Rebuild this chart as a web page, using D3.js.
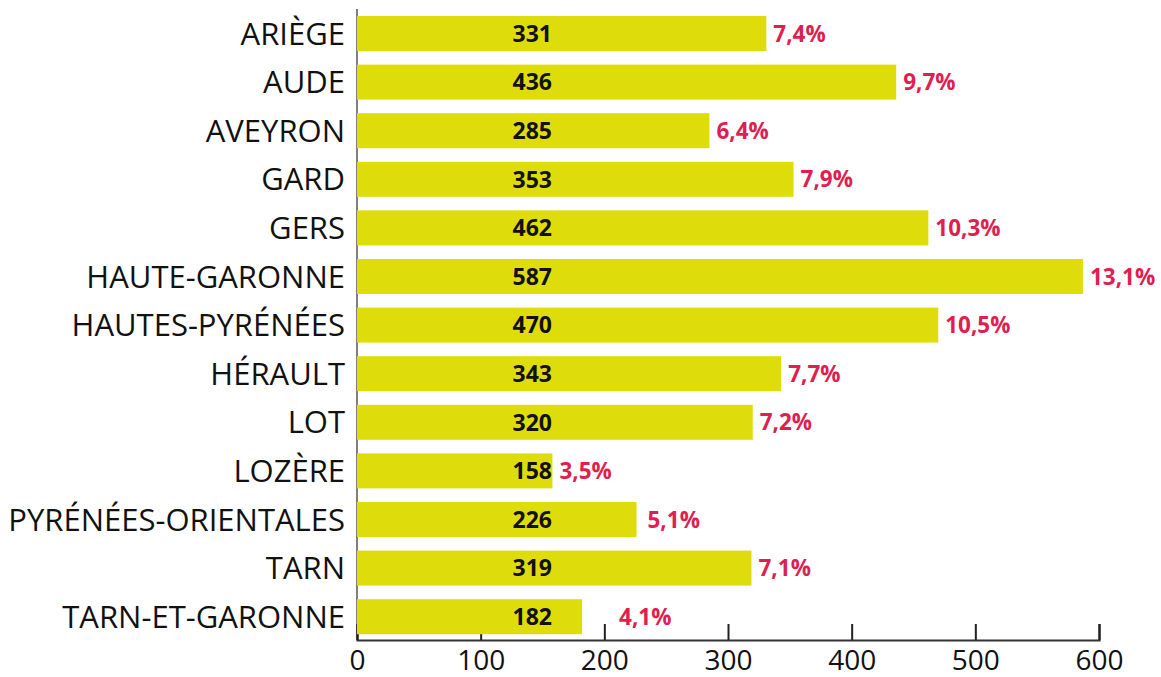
<!DOCTYPE html>
<html><head><meta charset="utf-8">
<script src="https://cdn.jsdelivr.net/npm/d3@7"></script>
<style>body{margin:0;background:#fff}svg{display:block}</style>
</head><body>
<svg id="c" width="1161" height="677"></svg>
<script>
const categories = ["ARIÈGE","AUDE","AVEYRON","GARD","GERS","HAUTE-GARONNE","HAUTES-PYRÉNÉES","HÉRAULT","LOT","LOZÈRE","PYRÉNÉES-ORIENTALES","TARN","TARN-ET-GARONNE"];
const values = [331,436,285,353,462,587,470,343,320,158,226,319,182];
const percents = ["7,4%","9,7%","6,4%","7,9%","10,3%","13,1%","10,5%","7,7%","7,2%","3,5%","5,1%","7,1%","4,1%"];
const xTicks = [0,100,200,300,400,500,600];

const svg = d3.select("#c");
const font = "'Open Sans', sans-serif";
const x = d3.scaleLinear().domain([0,600]).range([357,1099]);
const pad = 0.28;
const y = d3.scaleBand().domain(categories).range([2.4, 2.4 + 13.28*48.6]).padding(pad);

// vertical axis line (behind bars)
svg.append("line").attr("x1",357).attr("x2",357).attr("y1",9).attr("y2",640)
  .attr("stroke","#555").attr("stroke-width",1.5);

// x axis
const xAxis = svg.append("g").attr("transform","translate(0,640)")
  .call(d3.axisBottom(x).tickValues(xTicks).tickSize(-16).tickPadding(0).tickFormat(d3.format("d")));
xAxis.select(".domain").attr("stroke","#333").attr("stroke-width",2.2);
xAxis.selectAll(".tick line").attr("stroke","#222").attr("stroke-width",2);
xAxis.selectAll(".tick text").attr("font-family",font).attr("font-size",28).attr("fill","#111")
  .attr("y",30).attr("dy",0);

const idx = d3.range(categories.length);
svg.append("g").selectAll("rect").data(idx).join("rect")
  .attr("x",x(0)).attr("y",i=>y(categories[i])).attr("width",i=>x(values[i])-x(0))
  .attr("height",y.bandwidth()).attr("fill","#dedc0a");

svg.append("g").selectAll("text").data(idx).join("text")
  .attr("x",345).attr("y",i=>y(categories[i])+y.bandwidth()/2).attr("dy","0.36em")
  .attr("text-anchor","end").attr("font-family",font).attr("font-size",31).attr("fill","#111")
  .text(i=>categories[i]);

svg.append("g").selectAll("text").data(idx).join("text")
  .attr("x",552).attr("y",i=>y(categories[i])+y.bandwidth()/2).attr("dy","0.36em")
  .attr("text-anchor","end").attr("font-family",font).attr("font-size",23).attr("font-weight","bold").attr("fill","#111")
  .text(i=>values[i]);

// percent label gap after bar end (wider where the original label sits further out)
const gapFor = i => ({10:11, 12:37}[i] ?? 7);
svg.append("g").selectAll("text").data(idx).join("text")
  .attr("x",i=>x(values[i])+gapFor(i)).attr("y",i=>y(categories[i])+y.bandwidth()/2).attr("dy","0.36em")
  .attr("font-family",font).attr("font-size",22.5).attr("font-weight","bold").attr("fill","#e01e50")
  .text(i=>percents[i]);
</script>
</body></html>
